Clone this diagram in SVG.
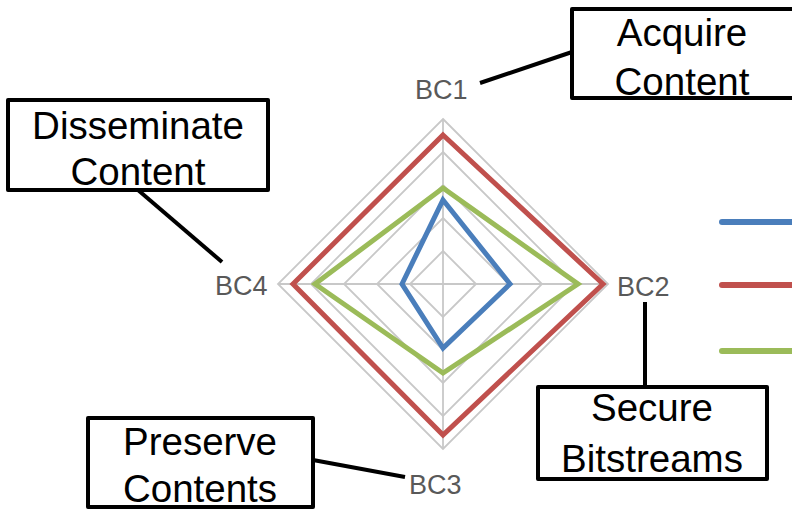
<svg xmlns="http://www.w3.org/2000/svg" width="792" height="509" viewBox="0 0 792 509">
<style>
.grid{fill:none;stroke:#c8c8c8;stroke-width:1.8}
.series{fill:none;stroke-width:5;stroke-linejoin:miter}
.axis{font-family:"Liberation Sans",Arial,sans-serif;font-size:27px;fill:#595959}
.box{fill:#fff;stroke:#000;stroke-width:4;stroke-linejoin:round}
.btxt{font-family:"Liberation Sans",Arial,sans-serif;font-size:38.5px;fill:#000;text-anchor:middle}
.conn{stroke:#000;stroke-width:4;fill:none}
.leg{stroke-width:6;stroke-linecap:round}
</style>
<rect width="792" height="509" fill="#fff"/>
<g id="chart">
  <path class="grid" d="M443,251 L476,284 L443,317 L410,284 Z"/>
  <path class="grid" d="M443,218 L509,284 L443,350 L377,284 Z"/>
  <path class="grid" d="M443,185 L542,284 L443,383 L344,284 Z"/>
  <path class="grid" d="M443,152 L575,284 L443,416 L311,284 Z"/>
  <path class="grid" d="M443,119 L608,284 L443,449 L278,284 Z"/>
  <line class="grid" x1="443" y1="119" x2="443" y2="449"/>
  <line class="grid" x1="278" y1="284" x2="608" y2="284"/>
  <path class="series" stroke="#c0504d" d="M443,135 L603,284 L443,435 L293,284 Z"/>
  <path class="series" stroke="#9bbb59" d="M443,188 L578,284 L443,373 L315,284 Z"/>
  <path class="series" stroke="#4a7ebb" d="M443,200 L510,284 L443,348 L402,284 Z"/>
  <text class="axis" x="415" y="99">BC1</text>
  <text class="axis" x="617" y="296">BC2</text>
  <text class="axis" x="409" y="494">BC3</text>
  <text class="axis" x="215" y="295">BC4</text>
</g>
<g id="legend">
  <line class="leg" stroke="#4a7ebb" x1="722" y1="222" x2="800" y2="222"/>
  <line class="leg" stroke="#c0504d" x1="722" y1="285" x2="800" y2="285"/>
  <line class="leg" stroke="#9bbb59" x1="722" y1="351" x2="800" y2="351"/>
</g>
<g id="connectors">
  <line class="conn" x1="480" y1="83" x2="572" y2="52"/>
  <line class="conn" x1="138" y1="190" x2="222" y2="262"/>
  <line class="conn" x1="313" y1="460" x2="405" y2="477"/>
  <line class="conn" x1="645" y1="302" x2="645" y2="387"/>
</g>
<g id="acquire">
  <rect class="box" x="572" y="9" width="240" height="89"/>
  <text class="btxt" x="682" y="46">Acquire</text>
  <text class="btxt" x="682" y="95">Content</text>
</g>
<g id="disseminate">
  <rect class="box" x="8" y="100" width="260" height="90"/>
  <text class="btxt" x="138" y="139">Disseminate</text>
  <text class="btxt" x="138" y="185">Content</text>
</g>
<g id="preserve">
  <rect class="box" x="88" y="418" width="225" height="89"/>
  <text class="btxt" x="200" y="455">Preserve</text>
  <text class="btxt" x="200" y="502">Contents</text>
</g>
<g id="secure">
  <rect class="box" x="538" y="387" width="229" height="92"/>
  <text class="btxt" x="652" y="421">Secure</text>
  <text class="btxt" x="652" y="472">Bitstreams</text>
</g>
</svg>
